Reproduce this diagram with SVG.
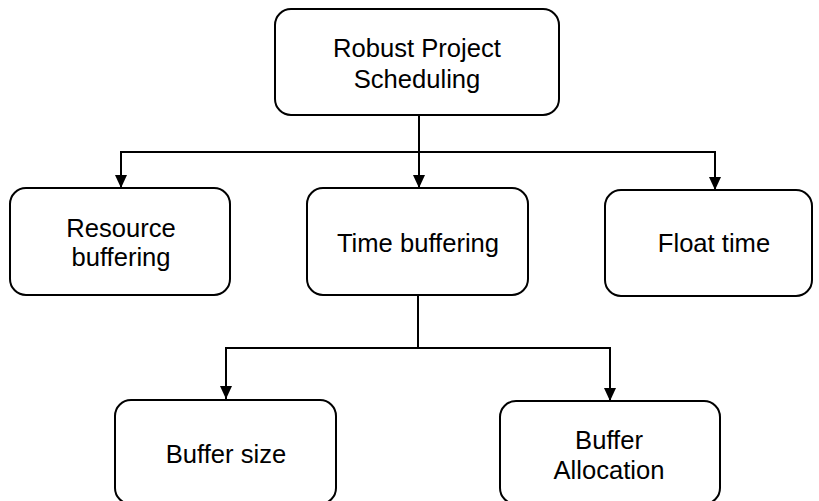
<svg xmlns="http://www.w3.org/2000/svg" width="819" height="501" viewBox="0 0 819 501">
  <style>
    .box { fill: #ffffff; stroke: #000000; stroke-width: 2; }
    .lbl { font-family: "Liberation Sans", Arial, sans-serif; font-size: 25.6px; fill: #000000; text-anchor: middle; }
    .wire { fill: none; stroke: #000000; stroke-width: 2; }
  </style>
  <defs>
    <!-- filled triangle pointing along the line direction, tip at the line end -->
    <marker id="arrow" viewBox="0 0 13 12" refX="13" refY="6" markerWidth="13" markerHeight="12" markerUnits="userSpaceOnUse" orient="auto-start-reverse">
      <path d="M0,0 L13,6 L0,12 Z" fill="#000000"/>
    </marker>
  </defs>
  <rect width="819" height="501" fill="#ffffff"/>

  <g id="connectors">
    <path class="wire" d="M419,115 V188" marker-end="url(#arrow)"/>
    <path class="wire" d="M121,188 V152 H715 V190" marker-end="url(#arrow)" marker-start="url(#arrow)"/>
    <path class="wire" d="M418,295 V348"/>
    <path class="wire" d="M226,399 V348 H610 V401" marker-end="url(#arrow)" marker-start="url(#arrow)"/>
  </g>

  <g id="robust-project-scheduling">
    <rect class="box" x="275" y="9" width="284" height="106" rx="16"/>
    <text class="lbl" x="417" y="57">Robust Project</text>
    <text class="lbl" x="417" y="88">Scheduling</text>
  </g>

  <g id="resource-buffering">
    <rect class="box" x="10" y="188" width="220" height="107" rx="16"/>
    <text class="lbl" x="121" y="237">Resource</text>
    <text class="lbl" x="121" y="266">buffering</text>
  </g>

  <g id="time-buffering">
    <rect class="box" x="307" y="188" width="221" height="107" rx="16"/>
    <text class="lbl" x="418" y="252">Time buffering</text>
  </g>

  <g id="float-time">
    <rect class="box" x="605" y="190" width="207" height="106" rx="16"/>
    <text class="lbl" x="714" y="252">Float time</text>
  </g>

  <g id="buffer-size">
    <rect class="box" x="115" y="400" width="221" height="104" rx="16"/>
    <text class="lbl" x="226" y="463">Buffer size</text>
  </g>

  <g id="buffer-allocation">
    <rect class="box" x="500" y="401" width="220" height="103" rx="16"/>
    <text class="lbl" x="609" y="449">Buffer</text>
    <text class="lbl" x="609" y="479">Allocation</text>
  </g>
</svg>
